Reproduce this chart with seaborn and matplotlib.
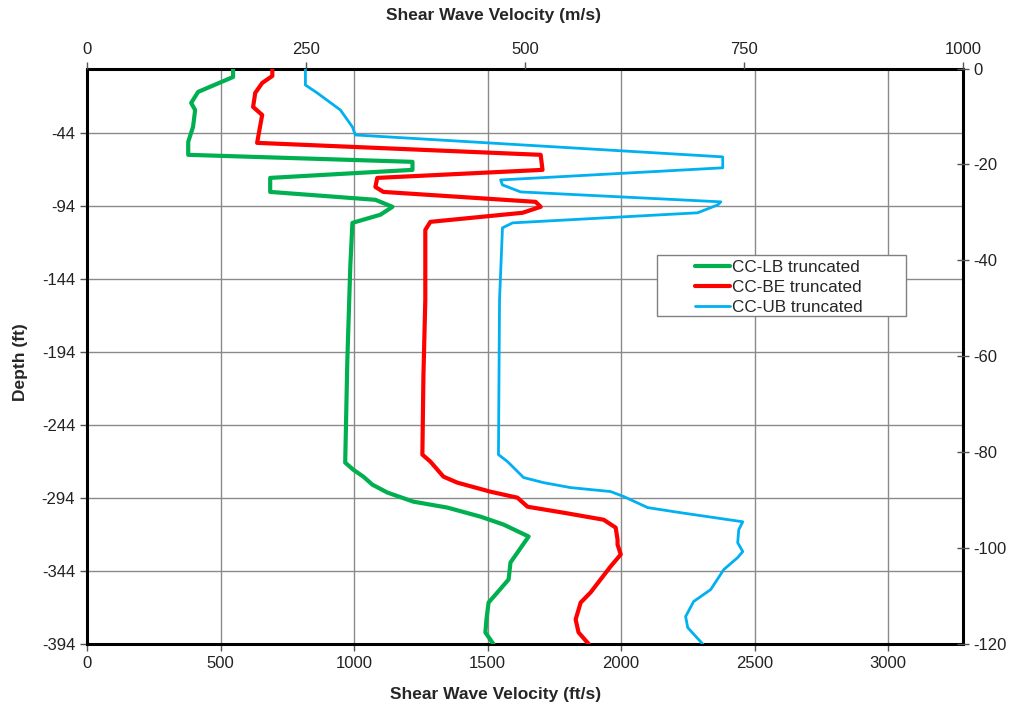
import numpy as np
import pandas as pd
import matplotlib
matplotlib.use("Agg")
import matplotlib.pyplot as plt
from matplotlib.patches import Rectangle
import seaborn as sns

FT_PER_M = 3.28084

# Shear wave velocity profiles (ft/s) against depth (ft)
lb_velocity = [547, 547, 416, 390, 405, 397, 379, 379, 1219, 1219, 686, 686, 1080, 1144, 1099,
               994, 986, 975, 967, 997, 1035, 1069, 1125, 1222, 1350, 1474, 1560, 1654, 1612,
               1586, 1579, 1537, 1504, 1496, 1492, 1522]
lb_depth = [0, -5.7, -15.9, -23.5, -28.3, -39.9, -50.1, -59, -63.8, -69.3, -74.8, -84.4, -89.8,
            -94.6, -100, -105.6, -135.6, -199.3, -269.8, -274.6, -279.4, -284.9, -290.3, -296.5,
            -300.6, -306.8, -312.2, -320.4, -331.4, -338.2, -349.8, -358.7, -365.6, -377.2,
            -386.1, -394]

be_velocity = [694, 694, 656, 630, 622, 656, 637, 1699, 1706, 1087, 1080, 1110, 1680, 1699, 1631,
               1286, 1267, 1267, 1260, 1256, 1286, 1335, 1387, 1511, 1612, 1650, 1785, 1935, 1980,
               1987, 1987, 1999, 1961, 1886, 1849, 1830, 1841, 1879]
be_depth = [0, -5, -9.8, -16.6, -26.2, -31.7, -50.8, -59, -69.3, -74.8, -81, -84.4, -91.2, -94.6,
            -98.7, -104.9, -110.4, -158.3, -210, -264.3, -269.1, -279.4, -283.5, -289.7, -293.8,
            -300, -304.1, -308.9, -314.3, -322.5, -325.9, -332.7, -340.9, -358.7, -365.6,
            -377.2, -386.1, -394]

ub_velocity = [818, 818, 862, 949, 994, 1005, 2381, 2381, 1549, 1556, 1624, 2374, 2362, 2287,
               1594, 1556, 1545, 1541, 1575, 1635, 1710, 1811, 1961, 2010, 2100, 2224, 2456,
               2441, 2437, 2456, 2437, 2385, 2336, 2272, 2242, 2250, 2306]
ub_depth = [0, -11.2, -16.6, -28.3, -39.9, -45.4, -60.4, -67.9, -76.2, -79.6, -84.4, -91.2, -93.3,
            -98.7, -105.6, -109, -158.3, -264.3, -269.1, -280, -283.5, -286.9, -289.6, -293,
            -300.6, -304.1, -310.3, -315.7, -324.6, -330.7, -334.8, -343, -356.7, -364.9,
            -375.2, -382.8, -394]

series_names = ["CC-LB truncated", "CC-BE truncated", "CC-UB truncated"]
series_colors = ["#00B050", "#FF0000", "#00B0F0"]
series_widths = [3.0, 3.0, 2.0]

depth_ticks = [-44, -94, -144, -194, -244, -294, -344, -394]
velocity_ticks = [0, 500, 1000, 1500, 2000, 2500, 3000]
velocity_ms_ticks = [0, 250, 500, 750, 1000]
depth_m_ticks = [0, -20, -40, -60, -80, -100, -120]

frames = []
for name, v, d in zip(series_names,
                      [lb_velocity, be_velocity, ub_velocity],
                      [lb_depth, be_depth, ub_depth]):
    frames.append(pd.DataFrame({"velocity": v, "depth": d, "profile": name}))
profiles = pd.concat(frames, ignore_index=True)

sns.set_style("ticks")
plt.rcParams["font.family"] = ["Liberation Sans", "DejaVu Sans"]
plt.rcParams["axes.unicode_minus"] = False

TICK_FS = 12
LABEL_FS = 12.5
TICK_KW = dict(direction="out", length=5, width=1, color="#555555", labelcolor="#222222")

fig = plt.figure(figsize=(10.25, 7.08), dpi=100)
ax = fig.add_axes([0.0849, 0.0904, 0.8546, 0.8126])

for name, color, lw in zip(series_names, series_colors, series_widths):
    sub = profiles[profiles["profile"] == name]
    sns.lineplot(data=sub, x="velocity", y="depth", sort=False, estimator=None,
                 color=color, linewidth=lw, label=name, ax=ax, zorder=3)

xmax = 1000 * FT_PER_M
ymin = -394
ax.set_xlim(0, xmax)
ax.set_ylim(ymin, 0)
ax.set_xticks(velocity_ticks)
ax.set_yticks(depth_ticks)
ax.set_yticklabels([str(t) for t in depth_ticks])
ax.grid(True, color="#8a8a8a", linewidth=1.0)
ax.set_axisbelow(True)
ax.tick_params(axis="both", labelsize=TICK_FS, **TICK_KW)
ax.set_xlabel("Shear Wave Velocity (ft/s)", fontsize=LABEL_FS, fontweight="bold")
ax.set_ylabel("Depth (ft)", fontsize=LABEL_FS, fontweight="bold")
ax.xaxis.set_label_coords(0.466, -0.0886)
ax.xaxis.label.set_verticalalignment("center")
ax.yaxis.set_label_coords(-0.0755, 0.49)
ax.yaxis.label.set_verticalalignment("center")
for sp in ax.spines.values():
    sp.set_linewidth(2.2)
    sp.set_color("black")

# Metric secondary axes
ax_top = ax.twiny()
ax_top.set_xlim(0, 1000)
ax_top.set_xticks(velocity_ms_ticks)
ax_top.tick_params(axis="x", labelsize=TICK_FS, **TICK_KW)
ax_top.set_xlabel("Shear Wave Velocity (m/s)", fontsize=LABEL_FS, fontweight="bold")
ax_top.xaxis.set_label_coords(0.4635, 1.092)
ax_top.xaxis.label.set_verticalalignment("center")

ax_right = ax.twinx()
ax_right.set_ylim(ymin / FT_PER_M, 0)
ax_right.set_yticks(depth_m_ticks)
right_kw = dict(TICK_KW, direction="inout", length=8)
ax_right.tick_params(axis="y", labelsize=TICK_FS, **right_kw)
for a in (ax_top, ax_right):
    for sp in a.spines.values():
        sp.set_visible(False)

# Legend with a square grey frame
ax.add_patch(Rectangle((0.6507, 0.570), 0.2843, 0.106, transform=ax.transAxes,
                       facecolor="white", edgecolor="#808080", linewidth=1.0, zorder=5))
leg = ax.legend(loc="upper left", bbox_to_anchor=(0.694, 0.6675), fontsize=12.3,
                frameon=False, handlelength=2.05, handletextpad=0.1,
                labelspacing=0.3, borderpad=0, borderaxespad=0)
leg.set_zorder(6)

fig.savefig("out.png", dpi=100)
